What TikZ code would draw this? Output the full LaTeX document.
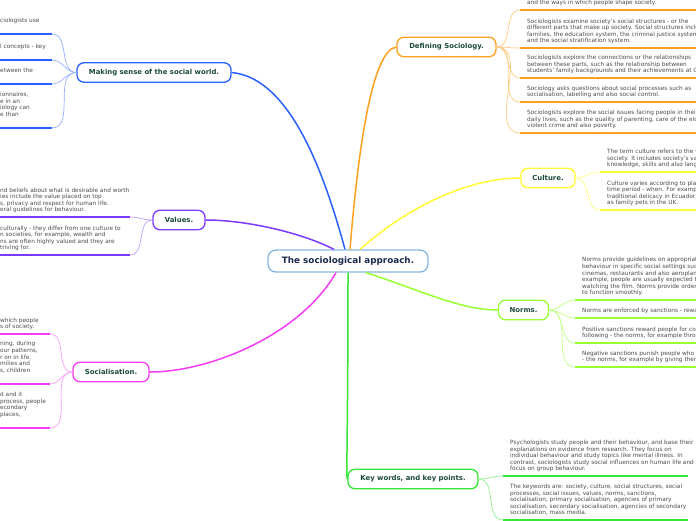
\documentclass[tikz,border=0pt]{standalone}
\usepackage{fontspec}
\setmainfont{DejaVu Sans}
\usetikzlibrary{positioning}
\definecolor{rootline}{HTML}{86B6E0}
\definecolor{roottext}{HTML}{1B2A4E}
\definecolor{topictext}{HTML}{1D4A3C}
\definecolor{leaftext}{HTML}{4D4D4D}
\definecolor{worldblue}{HTML}{2A62FF}
\definecolor{defineorange}{HTML}{FFA11F}
\definecolor{cultureyellow}{HTML}{FFFF33}
\definecolor{valuespurple}{HTML}{7A3BFF}
\definecolor{socialpink}{HTML}{F53CF5}
\definecolor{normslime}{HTML}{99FF33}
\definecolor{keysgreen}{HTML}{36E636}
\tikzset{
  rootbox/.style={
    rectangle,
    rounded corners=8pt,
    draw=rootline,
    line width=1.3pt,
    fill=white,
    text=roottext,
    font=\fontsize{8.8}{10}\selectfont\bfseries,
    minimum width=160pt,
    minimum height=22pt
  },
  topicbox/.style={
    rectangle,
    rounded corners=7pt,
    line width=1.3pt,
    fill=white,
    text=topictext,
    font=\fontsize{6.9}{8}\selectfont\bfseries,
    minimum height=19.5pt,
    inner xsep=2pt
  },
  notebox/.style={
    align=left,
    anchor=south west,
    text=leaftext,
    font=\fontsize{5.8}{6.6}\selectfont,
    inner xsep=7pt,
    inner ysep=3.3pt,
    text depth=1.6pt
  },
  sidenote/.style={notebox, inner xsep=2pt},
  mainlink/.style={line width=1.5pt},
  notelink/.style={line width=0.7pt},
  notebar/.style={line width=1.8pt}
}
\begin{document}
\begin{tikzpicture}[x=1pt,y=-1pt]
  \useasboundingbox[fill=white] (0,0) rectangle (696,520);
  % centre and main topics
  \node[rootbox] (root) at (348,261) {The sociological approach.};
  \node[topicbox, draw=worldblue, minimum width=154pt] (world) at (154,72.5) {Making sense of the social world.};
  \node[topicbox, draw=defineorange, minimum width=99pt] (define) at (446.5,47) {Defining Sociology.};
  \node[topicbox, draw=cultureyellow, minimum width=54pt] (culture) at (548,178) {Culture.};
  \node[topicbox, draw=valuespurple, minimum width=52pt] (values) at (179,220) {Values.};
  \node[topicbox, draw=socialpink, minimum width=76pt] (social) at (111,372) {Socialisation.};
  \node[topicbox, draw=normslime, minimum width=50pt] (norms) at (523.5,310) {Norms.};
  \node[topicbox, draw=keysgreen, minimum width=130pt] (keys) at (413,479) {Key words, and key points.};
  \draw[mainlink, worldblue] ([xshift=-3pt]root.north) .. controls (326,180) and (292,78) .. (world.east);
  \draw[mainlink, defineorange] ([xshift=2pt]root.north) .. controls (358,150) and (372,50) .. (define.west);
  \draw[mainlink, cultureyellow] ([xshift=12pt]root.north) .. controls (410,205) and (470,178) .. (culture.west);
  \draw[mainlink, valuespurple] ([xshift=-14pt]root.north) .. controls (300,232) and (245,220) .. (values.east);
  \draw[mainlink, socialpink] ([xshift=-12pt]root.south) .. controls (300,335) and (210,372) .. (social.east);
  \draw[mainlink, normslime] ([xshift=18pt]root.south) .. controls (420,290) and (460,310) .. (norms.west);
  \draw[mainlink, keysgreen] (root.south) .. controls (348,430) and (346,479) .. (keys.west);
  % making sense of the social world
  \node[sidenote] (world1) at (-2,34) {ciologists use\\\mbox{}};
  \node[sidenote] (world2) at (-2,60) {l concepts - key\\\mbox{}};
  \node[sidenote] (world3) at (-2,84) {etween the\\\mbox{}};
  \node[sidenote] (world4) at (-2,128) {ionnaires,\\e in an\\iology can\\e than\\\mbox{}};
  \foreach \n in {1,...,4} {
    \draw[notebar, worldblue] (world\n.south west) -- ++(54,0) coordinate (world\n end);
    \draw[notelink, worldblue!50] (world.west) to[out=180,in=0] (world\n end);
  }
  % values
  \node[sidenote] (values1) at (-2,217) {nd beliefs about what is desirable and worth\\ies include the value placed on top\\s, privacy and respect for human life.\\eral guidelines for behaviour.};
  \node[sidenote] (values2) at (-2,255) {culturally - they differ from one culture to\\n societies, for example, wealth and\\ns are often highly valued and they are\\triving for.};
  \foreach \n in {1,2} {
    \draw[notebar, valuespurple] (values\n.south west) -- ++(132,0) coordinate (values\n end);
    \draw[notelink, valuespurple!50] (values.west) to[out=180,in=0] (values\n end);
  }
  % socialisation
  \node[sidenote] (social1) at (-2,334) {which people\\s of society.};
  \node[sidenote] (social2) at (-2,384) {ning, during\\our patterns,\\r on in life.\\milies and\\s, children\\\mbox{}};
  \node[sidenote] (social3) at (-2,428) {d and it\\process, people\\econdary\\places,\\\mbox{}};
  \foreach \n in {1,2,3} {
    \draw[notebar, socialpink] (social\n.south west) -- ++(52,0) coordinate (social\n end);
    \draw[notelink, socialpink!50] (social.west) to[out=180,in=0] (social\n end);
  }
  % defining sociology
  \node[notebox] (define0) at (520,10) {and the ways in which people shape society.};
  \node[notebox] (define1) at (520,48) {Sociologists examine society's social structures - or the\\different parts that make up society. Social structures include\\families, the education system, the criminal justice system\\and the social stratification system.};
  \node[notebox] (define2) at (520,78) {Sociologists explore the connections or the relationships\\between these parts, such as the relationship between\\students' family backgrounds and their achievements at GCSE.};
  \node[notebox] (define3) at (520,102) {Sociology asks questions about social processes such as\\socialisation, labelling and also social control.};
  \node[notebox] (define4) at (520,133) {Sociologists explore the social issues facing people in their\\daily lives, such as the quality of parenting, care of the elderly,\\violent crime and also poverty.};
  \foreach \n in {0,...,4} {
    \draw[notebar, defineorange] (define\n.south west) -- ++(200,0);
    \draw[notelink, defineorange!55] (define.east) to[out=0,in=180] (define\n.south west);
  }
  % culture
  \node[notebox] (culture1) at (600,172) {The term culture refers to the whole\\society. It includes society's values\\knowledge, skills and also language};
  \node[notebox] (culture2) at (600,210) {Culture varies according to place\\time period - when. For example\\traditional delicacy in Ecuador, w\\as family pets in the UK.};
  \foreach \n in {1,2} {
    \draw[notebar, cultureyellow] (culture\n.south west) -- ++(120,0);
    \draw[notelink, cultureyellow!60] (culture.east) to[out=0,in=180] (culture\n.south west);
  }
  % norms
  \node[notebox] (norms1) at (575,300) {Norms provide guidelines on appropriate a\\behaviour in specific social settings such a\\cinemas, restaurants and also aeroplanes.\\example, people are usually expected to s\\watching the film. Norms provide order in\\to function smoothly.};
  \node[notebox] (norms2) at (575,318) {Norms are enforced by sanctions - reward};
  \node[notebox] (norms3) at (575,343) {Positive sanctions reward people for confo\\following - the norms, for example throug};
  \node[notebox] (norms4) at (575,367) {Negative sanctions punish people who dev\\- the norms, for example by giving them a};
  \foreach \n in {1,...,4} {
    \draw[notebar, normslime] (norms\n.south west) -- ++(140,0);
    \draw[notelink, normslime!60] (norms.east) to[out=0,in=180] (norms\n.south west);
  }
  % key words and key points
  \node[notebox] (keys1) at (503,476) {Psychologists study people and their behaviour, and base their\\explanations on evidence from research. They focus on\\individual behaviour and study topics like mental illness. In\\contrast, sociologists study social influences on human life and\\focus on group behaviour.};
  \node[notebox] (keys2) at (503,520) {The keywords are: society, culture, social structures, social\\processes, social issues, values, norms, sanctions,\\socialisation, primary socialisation, agencies of primary\\socialisation, secondary socialisation, agencies of secondary\\socialisation, mass media.};
  \foreach \n in {1,2} {
    \draw[notebar, keysgreen] (keys\n.south west) -- ++(185,0);
    \draw[notelink, keysgreen!55] (keys.east) to[out=0,in=180] (keys\n.south west);
  }
\end{tikzpicture}
\end{document}
